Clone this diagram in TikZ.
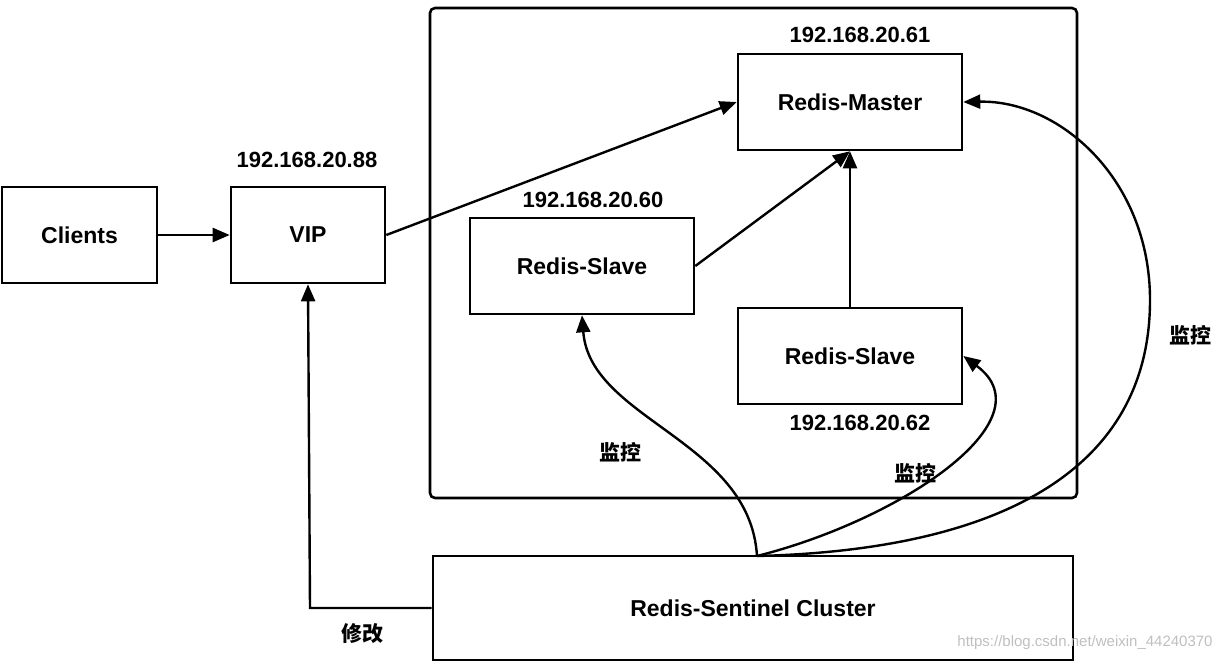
\documentclass[tikz,border=0pt]{standalone}
\usepackage{fontspec}
\setmainfont{Liberation Sans}
\newfontfamily\cjk{Noto Sans CJK SC}
\usetikzlibrary{arrows.meta}
\begin{document}
\begin{tikzpicture}[x=1pt,y=-1pt,
 box/.style={draw,line width=2.6pt,inner sep=0pt,font=\bfseries\fontsize{23}{27}\selectfont},
 lab/.style={font=\bfseries\fontsize{22}{26}\selectfont},
 cn/.style={font=\cjk\bfseries\fontsize{21}{25}\selectfont},
 arr/.style={line width=2.4pt,-{Triangle[length=17pt,width=14pt]}}]
\useasboundingbox (0,0) rectangle (1226,662);
\draw[line width=2.6pt,rounded corners=5pt] (430,8) rectangle (1077,498);
\node[box,minimum width=155,minimum height=96] (cl) at (79.5,235) {Clients};
\node[box,minimum width=154,minimum height=96] (vip) at (308,235) {VIP};
\node[box,minimum width=224,minimum height=96] (m) at (850,102) {Redis-Master};
\node[box,minimum width=224,minimum height=96] (s1) at (582,266) {Redis-Slave};
\node[box,minimum width=224,minimum height=96] (s2) at (850,356) {Redis-Slave};
\node[box,minimum width=640,minimum height=104] (sc) at (753,608) {Redis-Sentinel Cluster};
\node[lab] at (307,160) {192.168.20.88};
\node[lab] at (860,35) {192.168.20.61};
\node[lab] at (593,200) {192.168.20.60};
\node[lab] at (860,423) {192.168.20.62};
\node[cn] at (620,452) {监控};
\node[cn] at (915,473) {监控};
\node[cn] at (1190,335) {监控};
\node[cn] at (362,634) {修改};
\node[font=\fontsize{15}{18}\selectfont,text=gray!50] at (1085,643) {https://blog.csdn.net/weixin\_44240370};
\coordinate (st) at (757,556);
\draw[arr] (cl) -- (vip);
\draw[arr] (vip.east) -- (m.west);
\draw[arr] (s1.east) -- (m.south);
\draw[arr] (s2.north) -- (m.south);
\draw[arr] (st) .. controls (750,440) and (590,420) .. (s1.south);
\draw[arr] (st) .. controls (900,520) and (1050,420) .. (s2.east);
\draw[arr] (st) .. controls (1000,550) and (1150,470) .. (1150,300) .. controls (1150,180) and (1060,100) .. (m.east);
\draw[arr] (sc.west) -- (310,608) -- (vip.south);
\end{tikzpicture}
\end{document}
